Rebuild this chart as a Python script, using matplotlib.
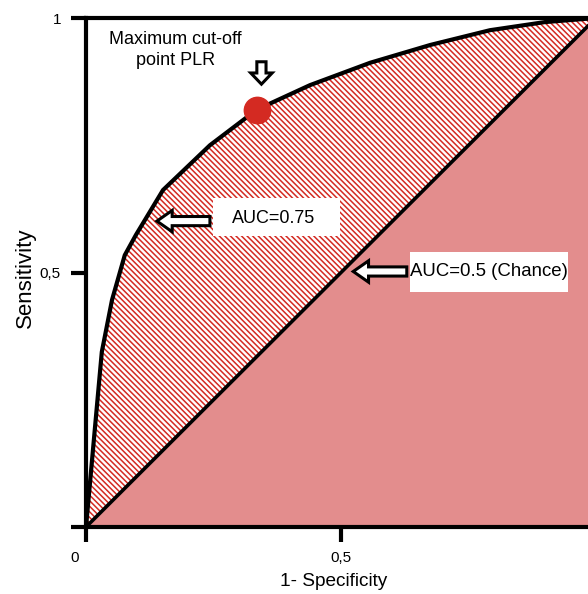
import matplotlib
matplotlib.use('Agg')
import matplotlib.pyplot as plt
import matplotlib.patches as mpatches
import matplotlib.transforms as mtransforms
import numpy as np

plt.rcParams['font.family'] = ['Liberation Sans', 'DejaVu Sans']
plt.rcParams['hatch.linewidth'] = 1.1

# ROC curve (1-specificity, sensitivity)
fpr = [0.0, 0.031, 0.051, 0.076, 0.098, 0.151, 0.243, 0.335, 0.439, 0.557, 0.675, 0.792, 0.900, 1.0]
tpr = [0.0, 0.344, 0.446, 0.534, 0.574, 0.662, 0.750, 0.820, 0.868, 0.912, 0.947, 0.976, 0.992, 1.0]
cutoff = (0.335, 0.820)
xticks = [0, 0.5, 1]
xticklabels = ['0', '0,5', '']
yticks = [0, 0.5, 1]
yticklabels = ['', '0,5', '1']

W, H = 588, 594
fig = plt.figure(figsize=(W / 100, H / 100), dpi=100)
ax = fig.add_axes([86 / W, 67 / H, 510 / W, 509 / H])
ax.set_xlim(0, 1)
ax.set_ylim(0, 1)

red = '#d42a22'
# below the chance line: fine pink checker, approximated by a flat tint
ax.fill([0, 1, 1], [0, 0, 1], facecolor='#e38d8d', edgecolor='none', zorder=1)
# between ROC curve and chance line: red diagonal stripes
diag = np.array(fpr)
ax.fill_between(fpr, diag, tpr, facecolor='white', edgecolor=red, hatch='\\' * 6,
                linewidth=0, zorder=1)

ax.plot([0, 1], [0, 1], color='black', lw=2.6, zorder=3, solid_capstyle='butt')
ax.plot(fpr, tpr, color='black', lw=3.0, zorder=3, solid_joinstyle='round')
ax.plot(*cutoff, 'o', ms=19, color=red, mec=red, zorder=5)

# white label boxes
ax.add_patch(mpatches.Rectangle((0.249, 0.572), 0.249, 0.075, facecolor='white',
                                edgecolor='none', zorder=4))
ax.text(0.286, 0.606, 'AUC=0.75', fontsize=13, ha='left', va='center', zorder=6)
ax.add_patch(mpatches.Rectangle((0.635, 0.462), 0.310, 0.078, facecolor='white',
                                edgecolor='none', zorder=4))
ax.text(0.636, 0.501, 'AUC=0.5 (Chance)', fontsize=13.4, ha='left', va='center', zorder=6)

ax.text(0.175, 0.937, 'Maximum cut-off\npoint PLR', fontsize=13, ha='center',
        va='center', linespacing=1.25, zorder=6)

# hollow block arrows
akw = dict(width=0.018, head_width=0.042, head_length=0.03, length_includes_head=True,
           facecolor='white', edgecolor='black', lw=2.2, zorder=7)
ax.add_patch(mpatches.FancyArrow(0.243, 0.601, -0.104, 0, **akw))
ax.add_patch(mpatches.FancyArrow(0.629, 0.502, -0.105, 0, **akw))
ax.add_patch(mpatches.FancyArrow(0.344, 0.914, 0, -0.044,
                                 **dict(akw, head_length=0.022)))

# axes frame
for side in ['left', 'bottom', 'top']:
    ax.spines[side].set_linewidth(3)
    ax.spines[side].set_zorder(8)
ax.spines['right'].set_visible(False)
ax.set_xticks(xticks)
ax.set_xticklabels(xticklabels)
ax.set_yticks(yticks)
ax.set_yticklabels(yticklabels)
ax.tick_params(axis='both', direction='out', length=11, width=3, labelsize=11, pad=6)
ax.tick_params(axis='y', pad=7)
off = mtransforms.ScaledTranslation(-0.11, 0, fig.dpi_scale_trans)
lab0 = ax.get_xticklabels()[0]
lab0.set_transform(lab0.get_transform() + off)

fig.text(25 / W, 1 - 278 / H, 'Sensitivity', rotation=90, fontsize=16,
         ha='center', va='center')
fig.text(334 / W, 1 - 582 / H, '1- Specificity', fontsize=13.7, ha='center', va='center')

fig.savefig('out.png', dpi=100)
